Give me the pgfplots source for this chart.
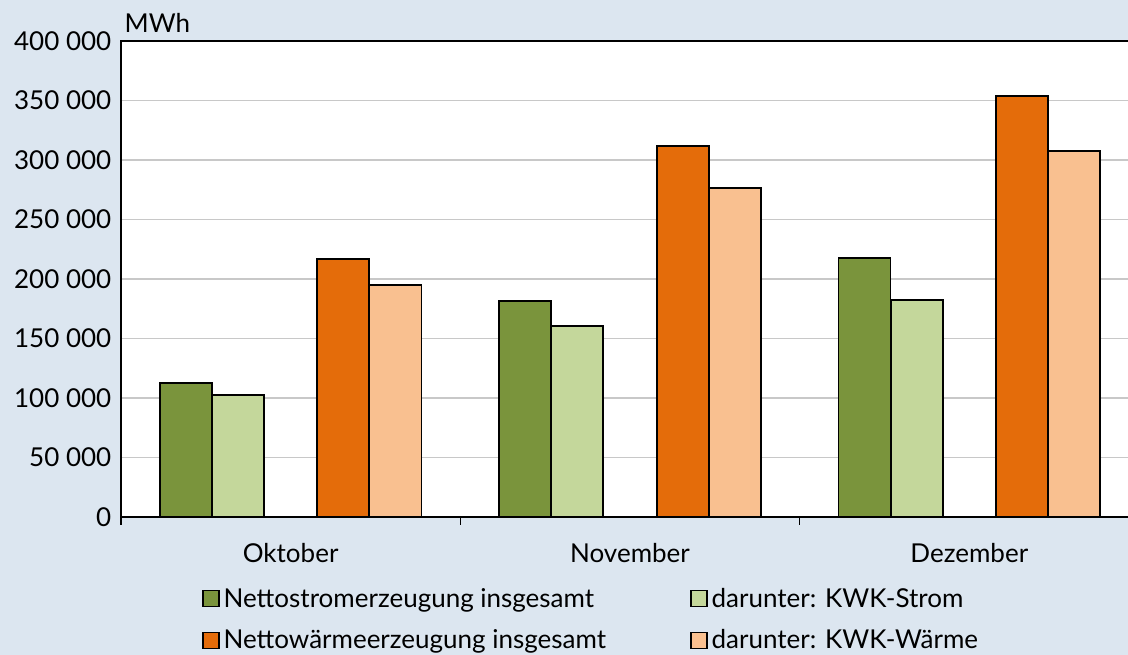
\documentclass[border=0pt]{standalone}
\usepackage{fontspec}
\setmainfont{Lato}
\usepackage{pgfplots}
\pgfplotsset{compat=1.18}
\definecolor{bg}{RGB}{220,230,240}
\definecolor{g1}{RGB}{122,148,60}
\definecolor{g2}{RGB}{196,215,155}
\definecolor{o1}{RGB}{228,108,10}
\definecolor{o2}{RGB}{249,192,144}
\definecolor{gridc}{RGB}{200,200,200}
\begin{document}
\begin{tikzpicture}[font=\fontsize{19.5}{23}\selectfont]
\fill[bg] (-90.75pt,-103.5pt) rectangle (755.25pt,387.75pt);
\begin{axis}[
  at={(0pt,0pt)}, anchor=south west,
  scale only axis, width=763.5pt, height=357pt,
  xmin=-0.5, xmax=2.5, ymin=0, ymax=400000,
  ybar, bar width=0.1534,
  axis background/.style={fill=white},
  axis line style={black, line width=1.3pt},
  scaled y ticks=false,
  ytick={0,50000,100000,150000,200000,250000,300000,350000,400000},
  yticklabels={0,50 000,100 000,150 000,200 000,250 000,300 000,350 000,400 000},
  yticklabel style={anchor=east, xshift=0.5pt},
  ytick style={draw=none},
  ymajorgrids, grid style={gridc, line width=0.9pt},
  xtick={0,1,2}, xticklabels={Oktober,November,Dezember},
  xtick pos=bottom,
  major x tick style={draw=none},
  minor xtick={-0.5,0.5,1.5},
  minor tick length=6pt, tick align=outside,
  minor x tick style={draw=black, line width=0.9pt},
  xticklabel style={yshift=-12pt},
  legend columns=2,
  legend cell align=left,
  legend style={at={(rel axis cs:0.0796,-0.143)}, anchor=north west, draw=none, fill=none,
    inner sep=0pt, row sep=11.5pt, column sep=0pt, nodes={inner xsep=3pt}},
  legend image code/.code={\draw[#1, draw=black, line width=1pt] (0pt,-6pt) rectangle (12pt,6pt);},
  every axis plot/.append style={draw=black, line width=1.4pt},
]
\addplot[fill=g1, bar shift=-0.309] coordinates {(0,112300) (1,181500) (2,217900)};
\addlegendentry{\makebox[347pt][l]{Nettostromerzeugung insgesamt}}
\addplot[fill=g2, bar shift=-0.155] coordinates {(0,102500) (1,160500) (2,182400)};
\addlegendentry{darunter: KWK-Strom}
\addplot[fill=o1, bar shift=0.155] coordinates {(0,216600) (1,312000) (2,354000)};
\addlegendentry{\makebox[347pt][l]{Nettowärmeerzeugung insgesamt}}
\addplot[fill=o2, bar shift=0.309] coordinates {(0,195000) (1,276200) (2,307600)};
\addlegendentry{darunter: KWK-Wärme}
\end{axis}
\node[anchor=base west, inner sep=0pt] at (2.5pt,363pt) {MWh};
\pgfresetboundingbox
\path[use as bounding box] (-90.75pt,-103.5pt) rectangle (755.25pt,387.75pt);
\end{tikzpicture}
\end{document}
